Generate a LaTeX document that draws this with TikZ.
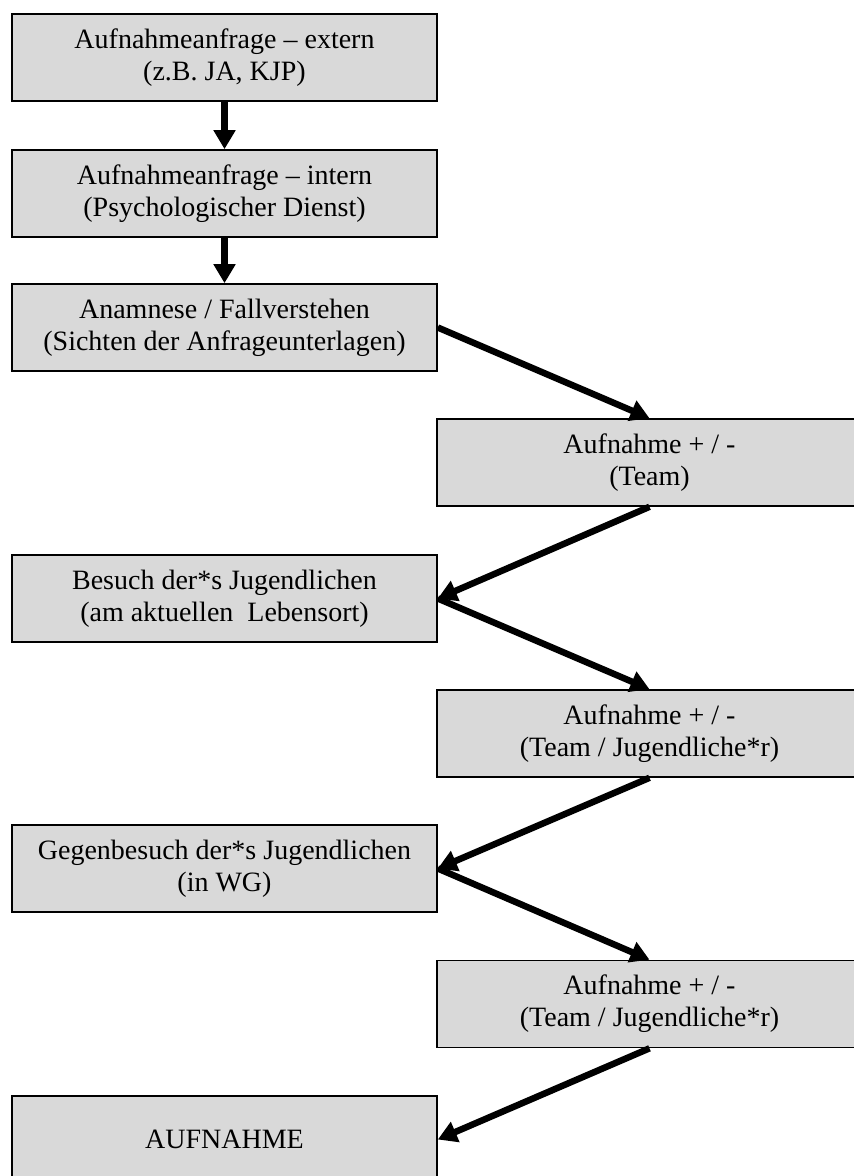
\documentclass[tikz,border=0pt]{standalone}
\usepackage{fontspec}
\setmainfont{Liberation Serif}
\usetikzlibrary{arrows.meta}
\begin{document}
\begin{tikzpicture}[x=1pt,y=1pt,
  box/.style={draw=black, line width=1.6pt, fill={rgb,255:red,217;green,217;blue,217},
    minimum width=425pt, minimum height=87pt, inner sep=0pt, align=center,
    font=\fontsize{28}{32}\selectfont},
  flow/.style={line width=6.5pt, -{Triangle[length=19pt,width=21pt]}}]
\useasboundingbox (0,0) rectangle (854,-1176);
\node[box] (b1) at (224.5,-57.5) {Aufnahmeanfrage -- extern\\(z.B. JA, KJP)};
\node[box] (b2) at (224.5,-193.5) {Aufnahmeanfrage -- intern\\(Psychologischer Dienst)};
\node[box] (b3) at (224.5,-327.5) {Anamnese / Fallverstehen\\(Sichten der Anfrageunterlagen)};
\node[box] (b4) at (649.5,-462.5) {Aufnahme + / -\\(Team)};
\node[box] (b5) at (224.5,-598.5) {Besuch der*s Jugendlichen\\(am aktuellen\ \ Lebensort)};
\node[box] (b6) at (649.5,-733.5) {Aufnahme + / -\\(Team / Jugendliche*r)};
\node[box] (b7) at (224.5,-868.5) {Gegenbesuch der*s Jugendlichen\\(in WG)};
\node[box] (b8) at (649.5,-1004) {Aufnahme + / -\\(Team / Jugendliche*r)};
\node[box] (b9) at (224.5,-1139.5) {AUFNAHME};
\draw[flow] (b1.south) -- (b2.north);
\draw[flow] (b2.south) -- (b3.north);
\draw[flow] (b3.east) -- (b4.north);
\draw[flow] (b4.south) -- (b5.east);
\draw[flow] (b5.east) -- (b6.north);
\draw[flow] (b6.south) -- (b7.east);
\draw[flow] (b7.east) -- (b8.north);
\draw[flow] (b8.south) -- (b9.east);
\end{tikzpicture}
\end{document}
